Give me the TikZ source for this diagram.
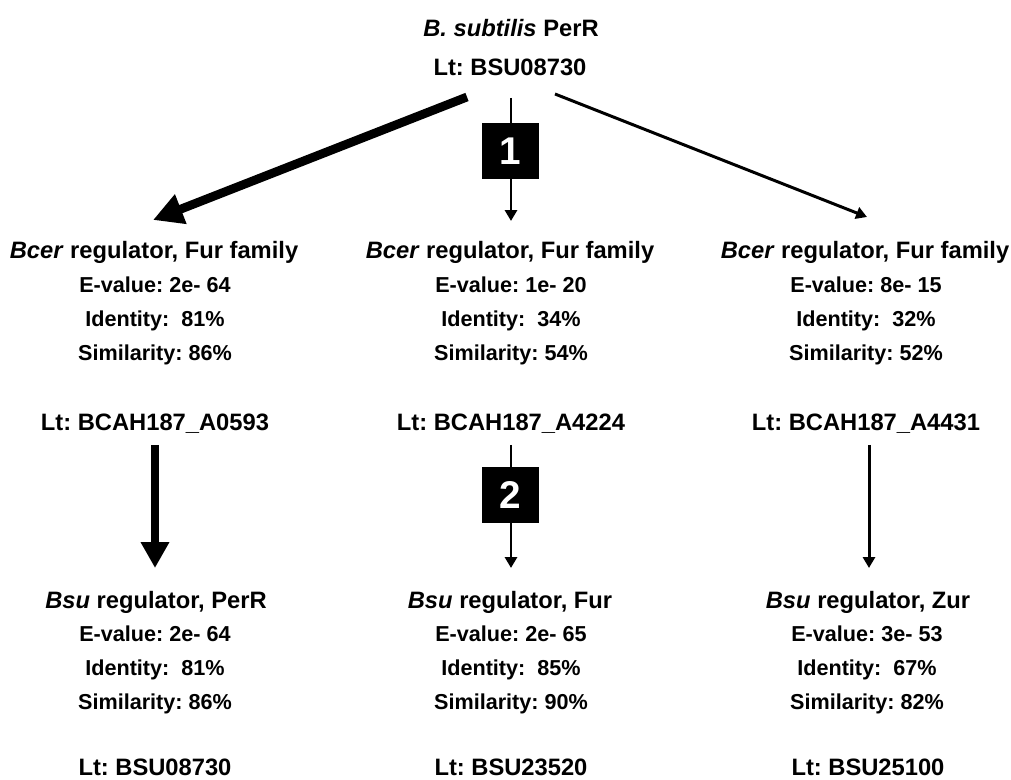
\documentclass[tikz,border=0pt]{standalone}
\usepackage{fontspec}
\setmainfont{Liberation Sans}
\usetikzlibrary{arrows.meta,positioning}
\frenchspacing

\begin{document}
\begin{tikzpicture}[
        x=0.02cm, y=-0.02cm,
        % stili
        head/.style={font=\bfseries\fontsize{13.5}{16}\selectfont, inner sep=0pt},
        info/.style={font=\bfseries\fontsize{12.3}{19.3}\selectfont, align=center, inner sep=0pt},
        stepnum/.style={rectangle, fill=black, text=white, minimum size=1.14cm, inner sep=0pt, font=\bfseries\fontsize{22}{24}\selectfont},
        thinarrow/.style={line width=1.7pt, -{Triangle[length=6.2pt,width=6.8pt]}},
        thickarrow/.style={line width=5pt, -{Triangle[length=17pt,width=17pt]}},
        thickdown/.style={line width=5pt, -{Triangle[length=14.7pt,width=15.3pt]}}
    ]
    \useasboundingbox (0,0) rectangle (1011,780);

    % Query
    \node (query) [head] at (511,28) {\textit{B. subtilis} PerR};
    \node (querylt) [head] at (510,67) {Lt: BSU08730};

    % Hit in B. cereus
    \node (bcerA) [head] at (154,252) {\textit{Bcer} regulator, Fur family};
    \node (bcerB) [head] at (510,252) {\textit{Bcer} regulator, Fur family};
    \node (bcerC) [head] at (865,252) {\textit{Bcer} regulator, Fur family};

    \node (statA) [info] at (155,321) {E-value: 2e- 64\\Identity:\ \ 81\%\\Similarity: 86\%};
    \node (statB) [info] at (511,321) {E-value: 1e- 20\\Identity:\ \ 34\%\\Similarity: 54\%};
    \node (statC) [info] at (866,321) {E-value: 8e- 15\\Identity:\ \ 32\%\\Similarity: 52\%};

    \node (ltA) [head] at (155,424) {Lt: BCAH187\_A0593};
    \node (ltB) [head] at (511,424) {Lt: BCAH187\_A4224};
    \node (ltC) [head] at (866,424) {Lt: BCAH187\_A4431};

    % Hit di ritorno in B. subtilis
    \node (bsuA) [head] at (156,602) {\textit{Bsu} regulator, PerR};
    \node (bsuB) [head] at (510,602) {\textit{Bsu} regulator, Fur};
    \node (bsuC) [head] at (868,602) {\textit{Bsu} regulator, Zur};

    \node (rstatA) [info] at (155,670) {E-value: 2e- 64\\Identity:\ \ 81\%\\Similarity: 86\%};
    \node (rstatB) [info] at (511,670) {E-value: 2e- 65\\Identity:\ \ 85\%\\Similarity: 90\%};
    \node (rstatC) [info] at (867,670) {E-value: 3e- 53\\Identity:\ \ 67\%\\Similarity: 82\%};

    \node (rltA) [head] at (155,767) {Lt: BSU08730};
    \node (rltB) [head] at (511,767) {Lt: BSU23520};
    \node (rltC) [head] at (868,767) {Lt: BSU25100};

    % Estremi delle frecce
    \coordinate (outA) at (467,97);
    \coordinate (outB) at (511,98);
    \coordinate (outC) at (555,94);
    \coordinate (inA) at (153,220);
    \coordinate (inB) at (511,221);
    \coordinate (inC) at (867,217);
    \coordinate (downA) at (155,445);
    \coordinate (downB) at (511,445);
    \coordinate (downC) at (869,445);
    \coordinate (endA) at (155,568);
    \coordinate (endB) at (511,568);
    \coordinate (endC) at (869,568);

    % Collegamenti
    \draw [thickarrow] (outA) -- (inA);
    \draw [thinarrow] (outB) -- (inB);
    \draw [thinarrow] (outC) -- (inC);

    \draw [thickdown] (downA) -- (endA);
    \draw [thinarrow] (downB) -- (endB);
    \draw [thinarrow] (downC) -- (endC);

    % Passi numerati
    \node (step1) [stepnum] at (510,151) {1};
    \node (step2) [stepnum] at (510,495) {2};

\end{tikzpicture}
\end{document}
